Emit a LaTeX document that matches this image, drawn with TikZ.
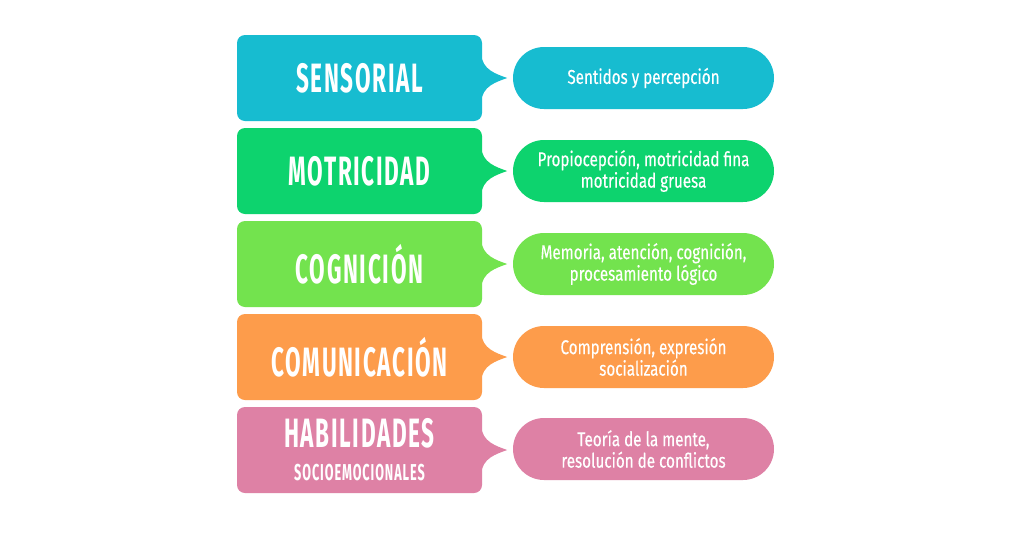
\documentclass[tikz,border=0pt]{standalone}
\usepackage{fontspec}
\setmainfont{Fira Sans}
\newfontfamily\titleface{Fira Sans}[FakeStretch=0.55,LetterSpace=4]
\newfontfamily\descface{Fira Sans}[FakeStretch=0.76,FakeBold=0.3]
\usetikzlibrary{shapes.misc}
\definecolor{cSens}{HTML}{17BCD0}
\definecolor{cMot}{HTML}{0DD36E}
\definecolor{cCog}{HTML}{73E34E}
\definecolor{cCom}{HTML}{FD9C4B}
\definecolor{cHab}{HTML}{DE81A5}
\tikzset{
  leftbox/.style={rectangle, rounded corners=8pt, minimum width=245pt, minimum height=86pt,
    inner sep=0pt, text=white, fill=#1, align=center,
    font=\titleface\bfseries\fontsize{41}{43}\selectfont},
  pill/.style={rounded rectangle, minimum width=261pt, minimum height=62pt, inner sep=0pt,
    text=white, fill=#1, align=center,
    font=\descface\fontsize{20}{21.5}\selectfont},
  pointer/.style={fill=#1}
}
\newcommand{\mkpointer}[2]{%
  \fill[pointer=#2] ([xshift=-1pt,yshift=24pt]#1.east)
    .. controls ([xshift=0pt,yshift=8pt]#1.east) and ([xshift=14pt,yshift=4pt]#1.east)
    .. ([xshift=25pt]#1.east)
    .. controls ([xshift=14pt,yshift=-4pt]#1.east) and ([xshift=0pt,yshift=-8pt]#1.east)
    .. ([xshift=-1pt,yshift=-24pt]#1.east) -- cycle;}
\begin{document}
\begin{tikzpicture}[x=1pt,y=-1pt]
\useasboundingbox[fill=white] (0,0) rectangle (1010,536);
\node[leftbox=cSens] (L1) at (359.5,78) {SENSORIAL};
\node[leftbox=cMot]  (L2) at (359.5,171) {MOTRICIDAD};
\node[leftbox=cCog]  (L3) at (359.5,264) {COGNICIÓN};
\node[leftbox=cCom]  (L4) at (359.5,357) {COMUNICACIÓN};
\node[leftbox=cHab]  (L5) at (359.5,450) {HABILIDADES\\[-10pt]{\fontsize{23}{24}\selectfont SOCIOEMOCIONALES}};
\mkpointer{L1}{cSens}
\mkpointer{L2}{cMot}
\mkpointer{L3}{cCog}
\mkpointer{L4}{cCom}
\mkpointer{L5}{cHab}
\node[pill=cSens] (R1) at (643.5,78) {Sentidos y percepción};
\node[pill=cMot]  (R2) at (643.5,171) {Propiocepción, motricidad fina\\motricidad gruesa};
\node[pill=cCog]  (R3) at (643.5,264) {Memoria, atención, cognición,\\procesamiento lógico};
\node[pill=cCom]  (R4) at (643.5,357) {Comprensión, expresión\\socialización};
\node[pill=cHab]  (R5) at (643.5,449) {Teoría de la mente,\\resolución de conflictos};
\end{tikzpicture}
\end{document}
